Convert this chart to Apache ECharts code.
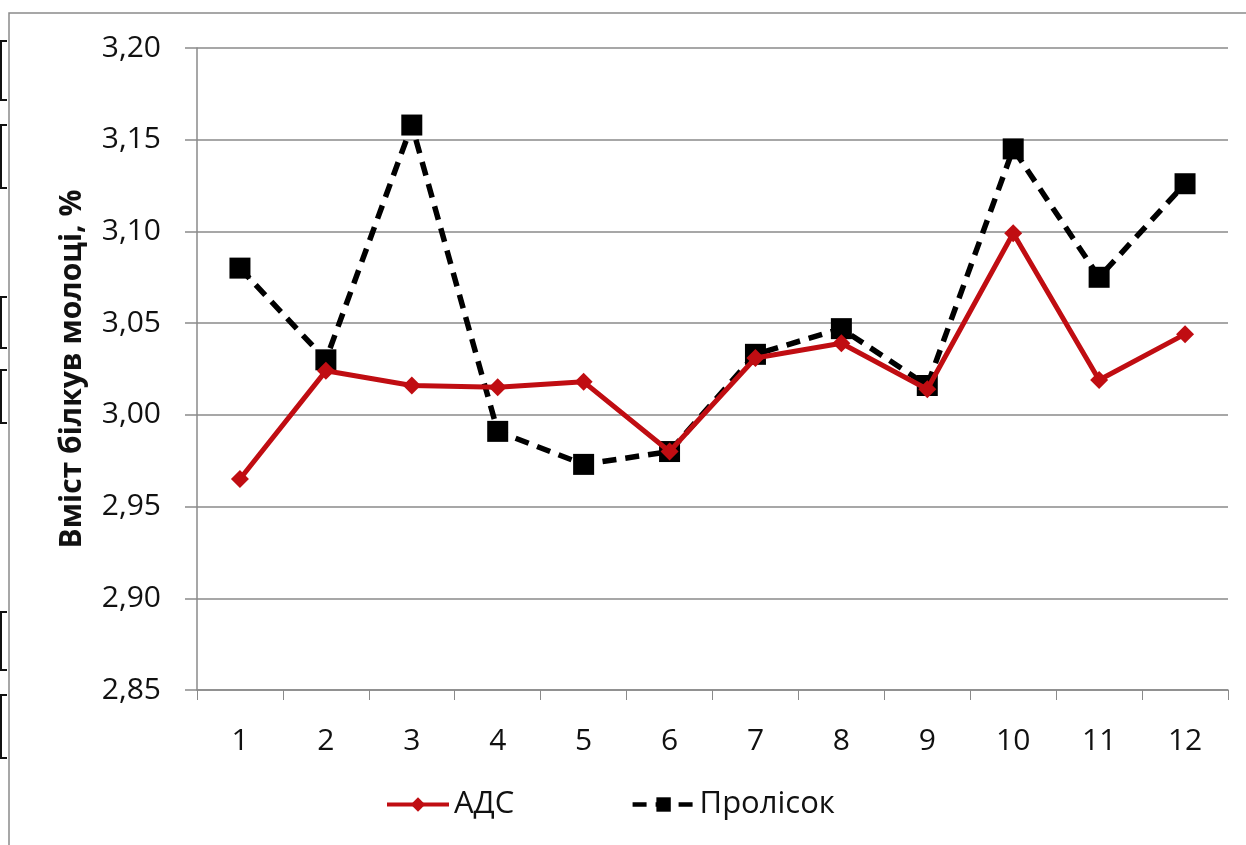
<!DOCTYPE html>
<html>
<head>
<meta charset="utf-8">
<script src="https://cdn.jsdelivr.net/npm/echarts@6/dist/echarts.min.js"></script>
<style>
  html, body { margin: 0; padding: 0; background: #fff; }
  #chart { width: 1246px; height: 845px; }
</style>
</head>
<body>
<div id="chart"></div>
<script>
const months = ["1", "2", "3", "4", "5", "6", "7", "8", "9", "10", "11", "12"];
const ads = [2.965, 3.024, 3.016, 3.015, 3.018, 2.980, 3.031, 3.039, 3.014, 3.099, 3.019, 3.044];
const prolisok = [3.080, 3.030, 3.158, 2.991, 2.973, 2.980, 3.033, 3.047, 3.016, 3.145, 3.075, 3.126];
const yTicks = { min: 2.85, max: 3.2, step: 0.05 };

const font = "'Open Sans', sans-serif";
const gray = "#8a8a8a";

const chart = echarts.init(document.getElementById("chart"));

// scan leftovers on the left edge
const brackets = [[41, 100], [125, 188], [297, 348], [370, 423], [612, 670], [695, 758]];
const graphics = [
  {
    type: "polyline",
    shape: { points: [[9, 845], [9, 13], [1246, 13]] },
    style: { stroke: gray, lineWidth: 1.5, fill: null },
  },
];
brackets.forEach(([a, b]) => {
  graphics.push({
    type: "polyline",
    shape: { points: [[7, a], [1, a], [1, b], [7, b]] },
    style: { stroke: "#111", lineWidth: 2, fill: null },
  });
});

chart.setOption({
  animation: false,
  backgroundColor: "#fff",
  graphic: graphics,
  grid: { left: 197, right: 18, top: 48, bottom: 155, containLabel: false },
  xAxis: {
    type: "category",
    data: months,
    boundaryGap: true,
    axisLine: { lineStyle: { color: gray, width: 1.5 } },
    axisTick: { show: true, length: 10, interval: 0, lineStyle: { color: gray } },
    axisLabel: { color: "#111", fontSize: 30, fontFamily: font, margin: 36, interval: 0 },
  },
  yAxis: {
    type: "value",
    min: yTicks.min,
    max: yTicks.max,
    interval: yTicks.step,
    name: "Вміст білкув молоці, %",
    nameLocation: "middle",
    nameGap: 110,
    nameTextStyle: { color: "#111", fontSize: 30, fontWeight: "bold", fontFamily: font },
    axisLine: { show: true, lineStyle: { color: gray, width: 1.5 } },
    axisTick: { show: true, length: 12, lineStyle: { color: gray, width: 1.5 } },
    splitLine: { lineStyle: { color: gray, width: 1.5 } },
    axisLabel: {
      color: "#111",
      fontSize: 30,
      fontFamily: font,
      margin: 36,
      formatter: (v) => v.toFixed(2).replace(".", ","),
    },
  },
  legend: {
    bottom: 20,
    left: 380,
    itemWidth: 62,
    itemHeight: 18,
    itemGap: 116,
    textStyle: { color: "#111", fontSize: 31, fontFamily: font },
    data: [
      { name: "АДС", lineStyle: { width: 4 } },
      { name: "Пролісок", lineStyle: { width: 4.5 } },
    ],
  },
  series: [
    {
      name: "АДС",
      type: "line",
      data: ads,
      symbol: "diamond",
      symbolSize: 18,
      z: 3,
      lineStyle: { color: "#c00d12", width: 5 },
      itemStyle: { color: "#c00d12" },
    },
    {
      name: "Пролісок",
      type: "line",
      data: prolisok,
      symbol: "rect",
      symbolSize: 21,
      z: 2,
      lineStyle: { color: "#000", width: 5.5, type: [14, 9] },
      itemStyle: { color: "#000" },
    },
  ],
});
</script>
</body>
</html>
